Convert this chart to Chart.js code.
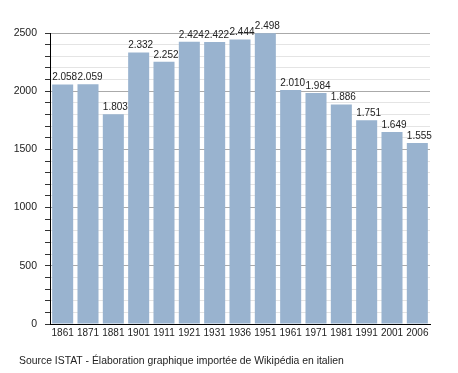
<!DOCTYPE html>
<html>
<head>
<meta charset="utf-8">
<script src="https://cdn.jsdelivr.net/npm/chart.js@4/dist/chart.umd.min.js"></script>
<style>
  html, body { margin: 0; padding: 0; background: #fff; }
  #wrap { width: 458px; height: 373px; }
</style>
</head>
<body>
<div id="wrap"><canvas id="popChart"></canvas></div>
<script>
// census years and population
const years = ["1861", "1871", "1881", "1901", "1911", "1921", "1931", "1936",
  "1951", "1961", "1971", "1981", "1991", "2001", "2006"];
const population = [2058, 2059, 1803, 2332, 2252, 2424, 2422, 2444,
  2498, 2010, 1984, 1886, 1751, 1649, 1555];
const yTicks = [0, 500, 1000, 1500, 2000, 2500];
const sourceNote = "Source ISTAT - Élaboration graphique importée de Wikipédia en italien";

const FONT = "'Liberation Sans', Arial, sans-serif";

function fmt(v) {
  return String(v).replace(/\B(?=(\d{3})+(?!\d))/g, ".");
}

// value labels above each bar + source line under the chart
const barLabels = {
  id: "barLabels",
  afterDatasetsDraw(chart) {
    const ctx = chart.ctx;
    const meta = chart.getDatasetMeta(0);
    ctx.save();
    ctx.font = "10px " + FONT;
    ctx.fillStyle = "#222";
    ctx.textAlign = "center";
    ctx.textBaseline = "bottom";
    meta.data.forEach((bar, i) => {
      ctx.fillText(fmt(population[i]), bar.x + 2, bar.y - 2);
    });
    ctx.restore();
  },
  afterDraw(chart) {
    const ctx = chart.ctx;
    ctx.save();
    ctx.font = "10.4px " + FONT;
    ctx.fillStyle = "#222";
    ctx.textAlign = "left";
    ctx.textBaseline = "middle";
    ctx.fillText(sourceNote, 19, chart.height - 12);
    ctx.restore();
  },
};

const ctx = document.getElementById("popChart").getContext("2d");
const popChart = new Chart(ctx, {
  type: "bar",
  data: {
    labels: years,
    datasets: [
      {
        label: "Population",
        data: population,
        backgroundColor: "#99b3cf",
        borderWidth: 0,
        categoryPercentage: 1,
        barPercentage: 0.83,
      },
    ],
  },
  options: {
    responsive: true,
    maintainAspectRatio: false,
    animation: false,
    layout: { padding: { left: 10, right: 28, top: 33, bottom: 18 } },
    plugins: {
      legend: { display: false },
      tooltip: { enabled: false },
    },
    scales: {
      x: {
        grid: { display: false, drawTicks: false },
        border: { display: true, color: "#000", width: 1 },
        ticks: {
          color: "#222",
          font: { family: FONT, size: 10 },
          padding: 3,
          maxRotation: 0,
          autoSkip: false,
        },
        afterFit(scale) {
          scale.height = 31;
        },
      },
      y: {
        min: 0,
        max: 2500,
        grid: {
          color: (c) => (c.tick.value % 500 === 0 ? "#aaaaaa" : "#e4e4e4"),
          tickColor: "#333",
          tickLength: 5,
          drawTicks: true,
        },
        border: { display: true, color: "#000", width: 1 },
        ticks: {
          stepSize: 100,
          autoSkip: false,
          color: "#222",
          font: { family: FONT, size: 10.5 },
          padding: 8,
          callback: (v) => (yTicks.includes(v) ? String(v) : ""),
        },
        afterFit(scale) {
          scale.width = 40;
        },
      },
    },
  },
  plugins: [barLabels],
});
</script>
</body>
</html>
